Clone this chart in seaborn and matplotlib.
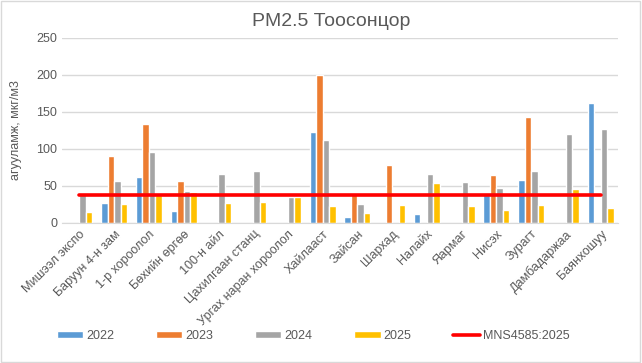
import matplotlib
matplotlib.use("Agg")
import matplotlib.pyplot as plt
import seaborn as sns
import pandas as pd
import numpy as np
from matplotlib.patches import Rectangle, Patch
from matplotlib.lines import Line2D

# station names
stations = ["Мишээл экспо", "Баруун 4-н зам", "1-р хороолол", "Бөхийн өргөө",
            "100-н айл", "Цахилгаан станц", "Ургах наран хороолол", "Хайлааст",
            "Зайсан", "Шархад", "Налайх", "Яармаг", "Нисэх", "Зурагт",
            "Дамбадаржаа", "Баянхошуу"]

nan = np.nan
pm_2022 = [nan, 26, 62, 15, nan, nan, nan, 123, 7, nan, 12, nan, 37, 58, nan, 162]
pm_2023 = [nan, 90, 133, 56, nan, nan, nan, 200, 40, 78, nan, nan, 65, 143, nan, nan]
pm_2024 = [38, 56, 96, 43, 66, 70, 35, 112, 25, nan, 66, 55, 47, 70, 120, 127]
pm_2025 = [14, 25, 37, 42, 26, 28, 34, 23, 13, 24, 53, 23, 17, 24, 46, 20]
years = ["2022", "2023", "2024", "2025"]
limit_label = "MNS4585:2025"
limit_value = 37.5

colors = ["#5B9BD5", "#ED7D31", "#A5A5A5", "#FFC000"]
text_col = "#595959"

rows = []
for yr, vals in zip(years, [pm_2022, pm_2023, pm_2024, pm_2025]):
    for st, v in zip(stations, vals):
        rows.append({"station": st, "year": yr, "value": v})
df = pd.DataFrame(rows)

sns.set_style("white")
plt.rcParams["font.family"] = ["Liberation Sans", "DejaVu Sans"]

fig = plt.figure(figsize=(6.42, 3.63), dpi=100)
ax = fig.add_axes([62 / 642, 1 - 222.5 / 363, 556 / 642, 184.5 / 363])

sns.barplot(data=df, x="station", y="value", hue="year", order=stations,
            hue_order=years, palette=colors, width=0.75, gap=0,
            saturation=1, ax=ax, legend=False)

# standard limit line, centre of first to last station
ax.plot(np.arange(len(stations)), [limit_value] * len(stations),
        color="#FF0000", lw=2.6, zorder=5)

ax.set_ylim(0, 250)
ax.set_yticks(range(0, 251, 50))
ax.set_xlim(-0.5, len(stations) - 0.5)
ax.grid(axis="y", color="#d9d9d9", lw=1)
ax.set_axisbelow(True)
for s in ["top", "right", "left"]:
    ax.spines[s].set_visible(False)
ax.spines["bottom"].set_color("#d9d9d9")
ax.tick_params(length=0, labelsize=9, colors=text_col)
ax.set_xticks(range(len(stations)))
ax.set_xticklabels(stations, rotation=45, ha="right", rotation_mode="anchor")
ax.tick_params(axis="x", pad=4)
ax.set_xlabel("")
ax.set_ylabel("агууламж, мкг/м3", fontsize=9, color=text_col, labelpad=10)

fig.text(331 / 642, 1 - 22 / 363, "PM2.5 Тоосонцор", ha="center", va="center",
         fontsize=14, color=text_col)

handles = [Patch(facecolor=c) for c in colors]
handles.append(Line2D([0], [0], color="#FF0000", lw=2.6))
fig.legend(handles, years + [limit_label], loc="center",
           bbox_to_anchor=(313 / 642, 1 - 336 / 363), ncol=5, frameon=False,
           fontsize=9, handlelength=2.1, handleheight=0.5, handletextpad=0.25,
           columnspacing=3.35, labelcolor=text_col)

fig.add_artist(Rectangle((0.002, 0.003), 0.995, 0.994, transform=fig.transFigure,
                         fill=False, edgecolor="#d9d9d9", lw=1))

fig.savefig("out.png", dpi=100)
